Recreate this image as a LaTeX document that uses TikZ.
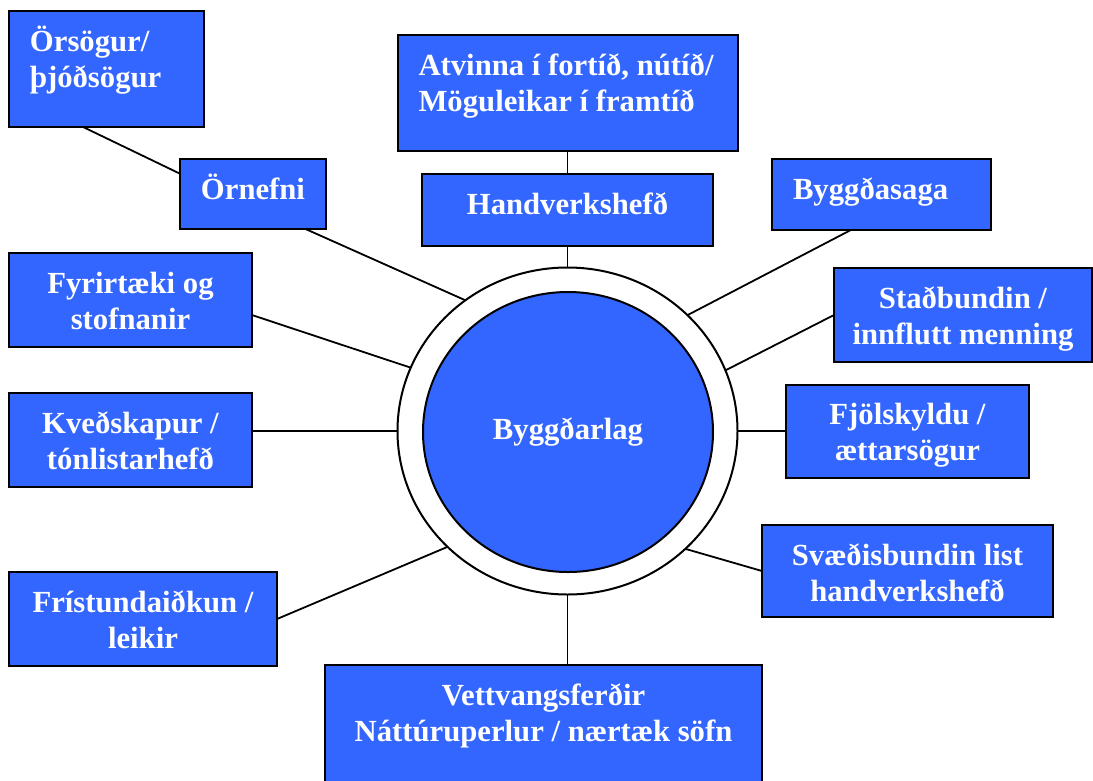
\documentclass[tikz,border=0pt]{standalone}
\usepackage{fontspec}
\setmainfont{Liberation Serif}
\usetikzlibrary{shapes.geometric,calc}
\definecolor{boxblue}{HTML}{3366FF}
\newcommand{\firstln}{\rule{0pt}{28pt}}
\newcommand{\cbox}[3]{\parbox[c][#2][t]{#1}{\centering\vspace*{12pt}\firstln #3}}
\newcommand{\lbox}[3]{\parbox[c][#2][t]{#1}{\raggedright\leftskip=21pt\vspace*{12pt}\firstln #3}}
\tikzset{
  boxnode/.style={draw=black, line width=2pt, fill=boxblue, inner sep=0pt, outer sep=0pt,
    text=white, font=\bfseries\fontsize{30.7}{36}\selectfont},
  conn/.style={draw=black, line width=1.8pt},
}
\begin{document}
\begin{tikzpicture}[x=1pt, y=-1pt]
\path[use as bounding box, fill=white] (0,0) rectangle (1093,780);

% centre
\node[ellipse, draw=black, line width=2pt, fill=white, minimum width=340pt, minimum height=327pt, inner sep=0pt, outer sep=0pt] (out) at (567.5,431) {};
\node[ellipse, draw=black, line width=2pt, fill=boxblue, minimum width=290pt, minimum height=280pt, inner sep=0pt, text=white, font=\bfseries\fontsize{30.7}{36}\selectfont] (core) at (568,432) {Byggðarlag};

% boxes
\node[boxnode] (ors) at (106.5,69) {\lbox{195pt}{116pt}{Örsögur/\\þjóðsögur}};
\node[boxnode] (orn) at (253,194) {\cbox{146pt}{70pt}{Örnefni}};
\node[boxnode] (atv) at (567.5,93) {\lbox{340pt}{116pt}{Atvinna í fortíð, nútíð/\\Möguleikar í framtíð}};
\node[boxnode] (hv) at (567.5,210) {\cbox{291pt}{72pt}{Handverkshefð}};
\node[boxnode] (byg) at (881.5,194.5) {\lbox{219pt}{71pt}{Byggðasaga}};
\node[boxnode] (fyr) at (130.5,300) {\cbox{243pt}{94pt}{Fyrirtæki og\\stofnanir}};
\node[boxnode] (sta) at (963,315) {\cbox{258pt}{94pt}{Staðbundin /\\innflutt menning}};
\node[boxnode] (kve) at (130.5,440) {\cbox{243pt}{94pt}{Kveðskapur /\\tónlistarhefð}};
\node[boxnode] (fjo) at (907.5,431) {\cbox{243pt}{93pt}{Fjölskyldu /\\ættarsögur}};
\node[boxnode] (fri) at (143,619) {\cbox{268pt}{94pt}{Frístundaiðkun /\\leikir}};
\node[boxnode] (sva) at (907.5,571) {\cbox{291pt}{92pt}{Svæðisbundin list\\handverkshefð}};
\node[boxnode] (vet) at (543.5,732.5) {\cbox{437pt}{135pt}{Vettvangsferðir\\Náttúruperlur / nærtæk söfn}};

% connectors
\draw[conn] ($(ors.south west)!0.38!(ors.south east)$) -- ($(orn.north west)!0.21!(orn.south west)$);
\draw[conn] ($(orn.south west)!0.86!(orn.south east)$) -- (out.128);
\draw[conn] (atv.south) -- (hv.north);
\draw[conn] (hv.south) -- (out.90);
\draw[conn] ($(byg.south west)!0.36!(byg.south east)$) -- (out.44);
\draw[conn] ($(fyr.north east)!0.66!(fyr.south east)$) -- (out.158.5);
\draw[conn] (sta.west) -- (out.21.3);
\draw[conn] (out.west) -- (out.west -| kve.east);
\draw[conn] (fjo.west) -- (out.east);
\draw[conn] (fri.east) -- (out.224);
\draw[conn] (sva.west) -- (out.315.5);
\draw[conn] (out.south) -- (out.south |- vet.north);
\end{tikzpicture}
\end{document}
